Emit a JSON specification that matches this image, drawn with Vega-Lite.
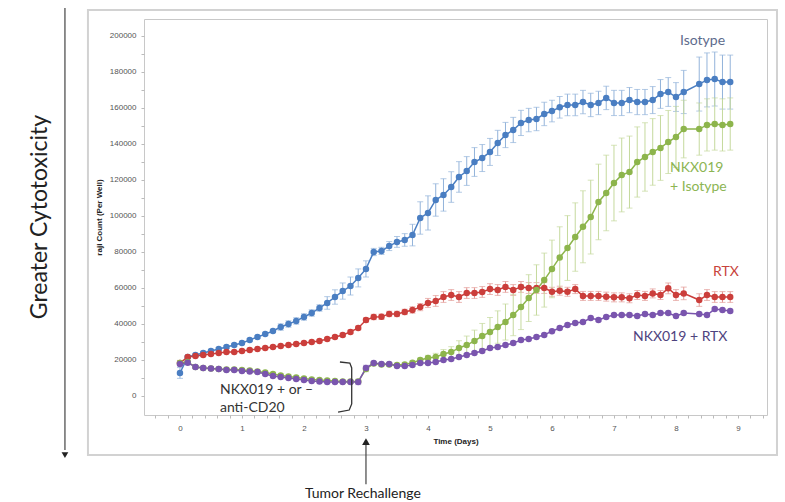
{
  "$schema": "https://vega.github.io/schema/vega-lite/v6.json",
  "width": 623,
  "height": 396,
  "autosize": {"type": "none"},
  "padding": {"left": 144, "top": 19, "right": 18, "bottom": 87},
  "background": "white",
  "config": {
    "view": {"stroke": "#c8c8c8", "strokeWidth": 1},
    "axis": {"grid": false, "domain": false, "labelFont": "Liberation Sans", "labelFontSize": 8, "labelColor": "#555555", "titleFont": "Liberation Sans", "titleFontSize": 8, "titleFontWeight": "bold", "titleColor": "#222222", "tickColor": "#bbbbbb"}
  },
  "datasets": {
    "frame": [{"t": -1.484, "t2": 9.629, "v": 214400, "v2": -32800}],
    "series": [
      {"s":"Isotype","t":0,"v":12800,"e":3000},
      {"s":"Isotype","t":0.125,"v":21700,"e":800},
      {"s":"Isotype","t":0.25,"v":22800,"e":800},
      {"s":"Isotype","t":0.375,"v":23900,"e":800},
      {"s":"Isotype","t":0.5,"v":25000,"e":800},
      {"s":"Isotype","t":0.625,"v":26100,"e":800},
      {"s":"Isotype","t":0.75,"v":27200,"e":800},
      {"s":"Isotype","t":0.875,"v":28300,"e":800},
      {"s":"Isotype","t":1.0,"v":29400,"e":800},
      {"s":"Isotype","t":1.125,"v":31100,"e":800},
      {"s":"Isotype","t":1.25,"v":32800,"e":800},
      {"s":"Isotype","t":1.375,"v":34400,"e":800},
      {"s":"Isotype","t":1.5,"v":36100,"e":800},
      {"s":"Isotype","t":1.625,"v":38300,"e":1800},
      {"s":"Isotype","t":1.75,"v":40000,"e":1800},
      {"s":"Isotype","t":1.875,"v":41700,"e":1800},
      {"s":"Isotype","t":2.0,"v":43900,"e":1800},
      {"s":"Isotype","t":2.125,"v":46100,"e":1800},
      {"s":"Isotype","t":2.25,"v":48900,"e":1800},
      {"s":"Isotype","t":2.375,"v":51700,"e":3500},
      {"s":"Isotype","t":2.5,"v":55000,"e":4000},
      {"s":"Isotype","t":2.625,"v":58300,"e":4500},
      {"s":"Isotype","t":2.75,"v":61100,"e":5000},
      {"s":"Isotype","t":2.875,"v":65600,"e":5000},
      {"s":"Isotype","t":3.0,"v":70600,"e":4500},
      {"s":"Isotype","t":3.125,"v":80000,"e":2000},
      {"s":"Isotype","t":3.25,"v":80600,"e":2000},
      {"s":"Isotype","t":3.375,"v":83300,"e":2500},
      {"s":"Isotype","t":3.5,"v":85600,"e":3000},
      {"s":"Isotype","t":3.625,"v":86700,"e":3500},
      {"s":"Isotype","t":3.75,"v":89400,"e":6000},
      {"s":"Isotype","t":3.875,"v":98900,"e":9000},
      {"s":"Isotype","t":4.0,"v":101700,"e":9500},
      {"s":"Isotype","t":4.125,"v":108900,"e":9000},
      {"s":"Isotype","t":4.25,"v":111700,"e":9000},
      {"s":"Isotype","t":4.375,"v":116100,"e":8500},
      {"s":"Isotype","t":4.5,"v":121700,"e":8500},
      {"s":"Isotype","t":4.625,"v":125000,"e":8000},
      {"s":"Isotype","t":4.75,"v":130000,"e":8000},
      {"s":"Isotype","t":4.875,"v":132200,"e":7500},
      {"s":"Isotype","t":5.0,"v":135600,"e":7500},
      {"s":"Isotype","t":5.125,"v":140600,"e":7000},
      {"s":"Isotype","t":5.25,"v":145000,"e":7000},
      {"s":"Isotype","t":5.375,"v":147800,"e":7000},
      {"s":"Isotype","t":5.5,"v":151700,"e":7000},
      {"s":"Isotype","t":5.625,"v":153300,"e":6500},
      {"s":"Isotype","t":5.75,"v":153900,"e":6500},
      {"s":"Isotype","t":5.875,"v":156700,"e":6500},
      {"s":"Isotype","t":6.0,"v":158300,"e":6000},
      {"s":"Isotype","t":6.125,"v":160400,"e":6000},
      {"s":"Isotype","t":6.25,"v":161700,"e":6000},
      {"s":"Isotype","t":6.375,"v":161700,"e":6000},
      {"s":"Isotype","t":6.5,"v":163300,"e":6500},
      {"s":"Isotype","t":6.625,"v":161700,"e":6500},
      {"s":"Isotype","t":6.75,"v":162800,"e":6500},
      {"s":"Isotype","t":6.875,"v":165600,"e":6500},
      {"s":"Isotype","t":7.0,"v":162800,"e":7000},
      {"s":"Isotype","t":7.125,"v":162800,"e":7000},
      {"s":"Isotype","t":7.25,"v":164400,"e":7000},
      {"s":"Isotype","t":7.375,"v":163300,"e":7000},
      {"s":"Isotype","t":7.5,"v":163300,"e":7000},
      {"s":"Isotype","t":7.625,"v":164400,"e":7500},
      {"s":"Isotype","t":7.75,"v":167800,"e":8000},
      {"s":"Isotype","t":7.875,"v":168900,"e":8000},
      {"s":"Isotype","t":8.0,"v":166100,"e":8000},
      {"s":"Isotype","t":8.125,"v":168900,"e":12000},
      {"s":"Isotype","t":8.375,"v":173300,"e":15000},
      {"s":"Isotype","t":8.5,"v":175600,"e":15000},
      {"s":"Isotype","t":8.625,"v":176100,"e":15000},
      {"s":"Isotype","t":8.75,"v":174400,"e":15000},
      {"s":"Isotype","t":8.875,"v":174400,"e":15000},

      {"s":"RTX","t":0,"v":18300,"e":600},
      {"s":"RTX","t":0.125,"v":21700,"e":500},
      {"s":"RTX","t":0.25,"v":22200,"e":500},
      {"s":"RTX","t":0.375,"v":22800,"e":500},
      {"s":"RTX","t":0.5,"v":23300,"e":500},
      {"s":"RTX","t":0.625,"v":23900,"e":500},
      {"s":"RTX","t":0.75,"v":24400,"e":500},
      {"s":"RTX","t":0.875,"v":24400,"e":500},
      {"s":"RTX","t":1.0,"v":25000,"e":500},
      {"s":"RTX","t":1.125,"v":25600,"e":500},
      {"s":"RTX","t":1.25,"v":26100,"e":500},
      {"s":"RTX","t":1.375,"v":26700,"e":500},
      {"s":"RTX","t":1.5,"v":27200,"e":500},
      {"s":"RTX","t":1.625,"v":27800,"e":500},
      {"s":"RTX","t":1.75,"v":28300,"e":500},
      {"s":"RTX","t":1.875,"v":28900,"e":500},
      {"s":"RTX","t":2.0,"v":29400,"e":500},
      {"s":"RTX","t":2.125,"v":30000,"e":600},
      {"s":"RTX","t":2.25,"v":30600,"e":600},
      {"s":"RTX","t":2.375,"v":31700,"e":700},
      {"s":"RTX","t":2.5,"v":32800,"e":800},
      {"s":"RTX","t":2.625,"v":33900,"e":900},
      {"s":"RTX","t":2.75,"v":35600,"e":1000},
      {"s":"RTX","t":2.875,"v":37800,"e":1000},
      {"s":"RTX","t":3.0,"v":42200,"e":1200},
      {"s":"RTX","t":3.125,"v":43900,"e":1500},
      {"s":"RTX","t":3.25,"v":44000,"e":1500},
      {"s":"RTX","t":3.375,"v":45600,"e":1500},
      {"s":"RTX","t":3.5,"v":45600,"e":1500},
      {"s":"RTX","t":3.625,"v":46700,"e":1500},
      {"s":"RTX","t":3.75,"v":47800,"e":1800},
      {"s":"RTX","t":3.875,"v":49400,"e":2000},
      {"s":"RTX","t":4.0,"v":51700,"e":2500},
      {"s":"RTX","t":4.125,"v":52800,"e":3000},
      {"s":"RTX","t":4.25,"v":55000,"e":3000},
      {"s":"RTX","t":4.375,"v":56100,"e":3000},
      {"s":"RTX","t":4.5,"v":55000,"e":3000},
      {"s":"RTX","t":4.625,"v":57200,"e":3000},
      {"s":"RTX","t":4.75,"v":57200,"e":3000},
      {"s":"RTX","t":4.875,"v":57800,"e":3000},
      {"s":"RTX","t":5.0,"v":59400,"e":3000},
      {"s":"RTX","t":5.125,"v":58900,"e":3000},
      {"s":"RTX","t":5.25,"v":60600,"e":3000},
      {"s":"RTX","t":5.375,"v":58900,"e":3000},
      {"s":"RTX","t":5.5,"v":60600,"e":3000},
      {"s":"RTX","t":5.625,"v":60000,"e":3000},
      {"s":"RTX","t":5.75,"v":60000,"e":3000},
      {"s":"RTX","t":5.875,"v":60000,"e":3000},
      {"s":"RTX","t":6.0,"v":57900,"e":2500},
      {"s":"RTX","t":6.125,"v":58500,"e":2500},
      {"s":"RTX","t":6.25,"v":57900,"e":2500},
      {"s":"RTX","t":6.375,"v":59400,"e":2500},
      {"s":"RTX","t":6.5,"v":55600,"e":2500},
      {"s":"RTX","t":6.625,"v":55600,"e":2500},
      {"s":"RTX","t":6.75,"v":55600,"e":2500},
      {"s":"RTX","t":6.875,"v":55200,"e":2500},
      {"s":"RTX","t":7.0,"v":54800,"e":2500},
      {"s":"RTX","t":7.125,"v":54800,"e":2500},
      {"s":"RTX","t":7.25,"v":54300,"e":2500},
      {"s":"RTX","t":7.375,"v":56100,"e":2500},
      {"s":"RTX","t":7.5,"v":55600,"e":2500},
      {"s":"RTX","t":7.625,"v":57000,"e":2500},
      {"s":"RTX","t":7.75,"v":56100,"e":2500},
      {"s":"RTX","t":7.875,"v":59800,"e":3000},
      {"s":"RTX","t":8.0,"v":56100,"e":3000},
      {"s":"RTX","t":8.125,"v":57000,"e":3500},
      {"s":"RTX","t":8.375,"v":53300,"e":3500},
      {"s":"RTX","t":8.5,"v":56100,"e":3000},
      {"s":"RTX","t":8.625,"v":55000,"e":3000},
      {"s":"RTX","t":8.75,"v":55000,"e":3000},
      {"s":"RTX","t":8.875,"v":55000,"e":3000},

      {"s":"NKX019+Iso","t":0,"v":18300,"e":1500},
      {"s":"NKX019+Iso","t":0.125,"v":18900,"e":800},
      {"s":"NKX019+Iso","t":0.25,"v":16100,"e":800},
      {"s":"NKX019+Iso","t":0.375,"v":15600,"e":800},
      {"s":"NKX019+Iso","t":0.5,"v":15300,"e":800},
      {"s":"NKX019+Iso","t":0.625,"v":15000,"e":800},
      {"s":"NKX019+Iso","t":0.75,"v":14700,"e":800},
      {"s":"NKX019+Iso","t":0.875,"v":14700,"e":800},
      {"s":"NKX019+Iso","t":1.0,"v":14400,"e":800},
      {"s":"NKX019+Iso","t":1.125,"v":14200,"e":800},
      {"s":"NKX019+Iso","t":1.25,"v":13600,"e":800},
      {"s":"NKX019+Iso","t":1.375,"v":13000,"e":800},
      {"s":"NKX019+Iso","t":1.5,"v":12200,"e":800},
      {"s":"NKX019+Iso","t":1.625,"v":11400,"e":800},
      {"s":"NKX019+Iso","t":1.75,"v":10800,"e":800},
      {"s":"NKX019+Iso","t":1.875,"v":10300,"e":800},
      {"s":"NKX019+Iso","t":2.0,"v":9700,"e":800},
      {"s":"NKX019+Iso","t":2.125,"v":9200,"e":800},
      {"s":"NKX019+Iso","t":2.25,"v":8900,"e":800},
      {"s":"NKX019+Iso","t":2.375,"v":8600,"e":800},
      {"s":"NKX019+Iso","t":2.5,"v":8300,"e":800},
      {"s":"NKX019+Iso","t":2.625,"v":8100,"e":800},
      {"s":"NKX019+Iso","t":2.75,"v":8000,"e":800},
      {"s":"NKX019+Iso","t":2.875,"v":8000,"e":800},
      {"s":"NKX019+Iso","t":3.0,"v":15000,"e":1500},
      {"s":"NKX019+Iso","t":3.125,"v":18000,"e":800},
      {"s":"NKX019+Iso","t":3.25,"v":17500,"e":800},
      {"s":"NKX019+Iso","t":3.375,"v":17500,"e":800},
      {"s":"NKX019+Iso","t":3.5,"v":17200,"e":800},
      {"s":"NKX019+Iso","t":3.625,"v":17500,"e":800},
      {"s":"NKX019+Iso","t":3.75,"v":18500,"e":800},
      {"s":"NKX019+Iso","t":3.875,"v":20000,"e":1000},
      {"s":"NKX019+Iso","t":4.0,"v":21100,"e":1500},
      {"s":"NKX019+Iso","t":4.125,"v":21700,"e":2000},
      {"s":"NKX019+Iso","t":4.25,"v":23300,"e":2500},
      {"s":"NKX019+Iso","t":4.375,"v":24400,"e":3000},
      {"s":"NKX019+Iso","t":4.5,"v":26700,"e":4000},
      {"s":"NKX019+Iso","t":4.625,"v":28300,"e":5000},
      {"s":"NKX019+Iso","t":4.75,"v":30600,"e":6000},
      {"s":"NKX019+Iso","t":4.875,"v":33300,"e":7000},
      {"s":"NKX019+Iso","t":5.0,"v":35600,"e":8000},
      {"s":"NKX019+Iso","t":5.125,"v":38300,"e":9000},
      {"s":"NKX019+Iso","t":5.25,"v":41100,"e":10000},
      {"s":"NKX019+Iso","t":5.375,"v":45000,"e":11500},
      {"s":"NKX019+Iso","t":5.5,"v":49400,"e":12500},
      {"s":"NKX019+Iso","t":5.625,"v":54400,"e":13000},
      {"s":"NKX019+Iso","t":5.75,"v":58900,"e":14000},
      {"s":"NKX019+Iso","t":5.875,"v":64400,"e":15000},
      {"s":"NKX019+Iso","t":6.0,"v":70600,"e":16000},
      {"s":"NKX019+Iso","t":6.125,"v":77000,"e":17000},
      {"s":"NKX019+Iso","t":6.25,"v":82200,"e":18000},
      {"s":"NKX019+Iso","t":6.375,"v":88300,"e":19000},
      {"s":"NKX019+Iso","t":6.5,"v":94000,"e":20000},
      {"s":"NKX019+Iso","t":6.625,"v":99400,"e":20500},
      {"s":"NKX019+Iso","t":6.75,"v":107800,"e":21000},
      {"s":"NKX019+Iso","t":6.875,"v":112800,"e":21000},
      {"s":"NKX019+Iso","t":7.0,"v":118300,"e":21000},
      {"s":"NKX019+Iso","t":7.125,"v":122800,"e":20500},
      {"s":"NKX019+Iso","t":7.25,"v":124400,"e":20000},
      {"s":"NKX019+Iso","t":7.375,"v":130000,"e":19500},
      {"s":"NKX019+Iso","t":7.5,"v":132800,"e":19000},
      {"s":"NKX019+Iso","t":7.625,"v":135600,"e":18500},
      {"s":"NKX019+Iso","t":7.75,"v":137800,"e":18000},
      {"s":"NKX019+Iso","t":7.875,"v":141100,"e":17500},
      {"s":"NKX019+Iso","t":8.0,"v":143900,"e":17000},
      {"s":"NKX019+Iso","t":8.125,"v":148300,"e":16000},
      {"s":"NKX019+Iso","t":8.375,"v":148300,"e":14500},
      {"s":"NKX019+Iso","t":8.5,"v":150600,"e":14500},
      {"s":"NKX019+Iso","t":8.625,"v":151100,"e":14500},
      {"s":"NKX019+Iso","t":8.75,"v":150600,"e":14500},
      {"s":"NKX019+Iso","t":8.875,"v":151100,"e":14500},

      {"s":"NKX019+RTX","t":0,"v":17800,"e":600},
      {"s":"NKX019+RTX","t":0.125,"v":18500,"e":600},
      {"s":"NKX019+RTX","t":0.25,"v":16100,"e":600},
      {"s":"NKX019+RTX","t":0.375,"v":15600,"e":600},
      {"s":"NKX019+RTX","t":0.5,"v":15300,"e":600},
      {"s":"NKX019+RTX","t":0.625,"v":15000,"e":600},
      {"s":"NKX019+RTX","t":0.75,"v":14400,"e":600},
      {"s":"NKX019+RTX","t":0.875,"v":14400,"e":600},
      {"s":"NKX019+RTX","t":1.0,"v":13900,"e":600},
      {"s":"NKX019+RTX","t":1.125,"v":13600,"e":600},
      {"s":"NKX019+RTX","t":1.25,"v":13300,"e":600},
      {"s":"NKX019+RTX","t":1.375,"v":12200,"e":600},
      {"s":"NKX019+RTX","t":1.5,"v":11100,"e":600},
      {"s":"NKX019+RTX","t":1.625,"v":10600,"e":600},
      {"s":"NKX019+RTX","t":1.75,"v":10000,"e":600},
      {"s":"NKX019+RTX","t":1.875,"v":9400,"e":600},
      {"s":"NKX019+RTX","t":2.0,"v":8900,"e":600},
      {"s":"NKX019+RTX","t":2.125,"v":8300,"e":600},
      {"s":"NKX019+RTX","t":2.25,"v":8000,"e":600},
      {"s":"NKX019+RTX","t":2.375,"v":7800,"e":600},
      {"s":"NKX019+RTX","t":2.5,"v":7800,"e":600},
      {"s":"NKX019+RTX","t":2.625,"v":7800,"e":600},
      {"s":"NKX019+RTX","t":2.75,"v":7800,"e":600},
      {"s":"NKX019+RTX","t":2.875,"v":7800,"e":1500},
      {"s":"NKX019+RTX","t":3.0,"v":15600,"e":1500},
      {"s":"NKX019+RTX","t":3.125,"v":18300,"e":600},
      {"s":"NKX019+RTX","t":3.25,"v":17800,"e":600},
      {"s":"NKX019+RTX","t":3.375,"v":17800,"e":600},
      {"s":"NKX019+RTX","t":3.5,"v":16700,"e":600},
      {"s":"NKX019+RTX","t":3.625,"v":16700,"e":600},
      {"s":"NKX019+RTX","t":3.75,"v":17200,"e":600},
      {"s":"NKX019+RTX","t":3.875,"v":18300,"e":600},
      {"s":"NKX019+RTX","t":4.0,"v":18300,"e":600},
      {"s":"NKX019+RTX","t":4.125,"v":18900,"e":600},
      {"s":"NKX019+RTX","t":4.25,"v":20000,"e":600},
      {"s":"NKX019+RTX","t":4.375,"v":20600,"e":600},
      {"s":"NKX019+RTX","t":4.5,"v":21700,"e":600},
      {"s":"NKX019+RTX","t":4.625,"v":22800,"e":600},
      {"s":"NKX019+RTX","t":4.75,"v":23900,"e":600},
      {"s":"NKX019+RTX","t":4.875,"v":25000,"e":600},
      {"s":"NKX019+RTX","t":5.0,"v":26700,"e":600},
      {"s":"NKX019+RTX","t":5.125,"v":27200,"e":600},
      {"s":"NKX019+RTX","t":5.25,"v":28300,"e":600},
      {"s":"NKX019+RTX","t":5.375,"v":29400,"e":600},
      {"s":"NKX019+RTX","t":5.5,"v":31100,"e":600},
      {"s":"NKX019+RTX","t":5.625,"v":31700,"e":600},
      {"s":"NKX019+RTX","t":5.75,"v":32800,"e":600},
      {"s":"NKX019+RTX","t":5.875,"v":33900,"e":600},
      {"s":"NKX019+RTX","t":6.0,"v":36000,"e":600},
      {"s":"NKX019+RTX","t":6.125,"v":37800,"e":600},
      {"s":"NKX019+RTX","t":6.25,"v":39400,"e":600},
      {"s":"NKX019+RTX","t":6.375,"v":40600,"e":600},
      {"s":"NKX019+RTX","t":6.5,"v":41100,"e":600},
      {"s":"NKX019+RTX","t":6.625,"v":43300,"e":600},
      {"s":"NKX019+RTX","t":6.75,"v":42200,"e":600},
      {"s":"NKX019+RTX","t":6.875,"v":43900,"e":600},
      {"s":"NKX019+RTX","t":7.0,"v":45000,"e":600},
      {"s":"NKX019+RTX","t":7.125,"v":45000,"e":600},
      {"s":"NKX019+RTX","t":7.25,"v":45000,"e":600},
      {"s":"NKX019+RTX","t":7.375,"v":44400,"e":600},
      {"s":"NKX019+RTX","t":7.5,"v":45600,"e":600},
      {"s":"NKX019+RTX","t":7.625,"v":45000,"e":600},
      {"s":"NKX019+RTX","t":7.75,"v":46100,"e":600},
      {"s":"NKX019+RTX","t":7.875,"v":46100,"e":600},
      {"s":"NKX019+RTX","t":8.0,"v":44400,"e":600},
      {"s":"NKX019+RTX","t":8.125,"v":46100,"e":600},
      {"s":"NKX019+RTX","t":8.375,"v":45600,"e":600},
      {"s":"NKX019+RTX","t":8.5,"v":45000,"e":600},
      {"s":"NKX019+RTX","t":8.625,"v":48300,"e":600},
      {"s":"NKX019+RTX","t":8.75,"v":47800,"e":600},
      {"s":"NKX019+RTX","t":8.875,"v":47200,"e":600}
    ],
    "labels": [
      {"t": 8.065, "v": 197200, "text": "Isotype", "k": "iso"},
      {"t": 7.903, "v": 126700, "text": "NKX019", "k": "nkiso"},
      {"t": 7.903, "v": 116100, "text": "+ Isotype", "k": "nkiso"},
      {"t": 8.597, "v": 68900, "text": "RTX", "k": "rtx"},
      {"t": 7.306, "v": 32800, "text": "NKX019 + RTX", "k": "nkrtx"},
      {"t": 0.645, "v": 3300, "text": "NKX019 + or –", "k": "anno"},
      {"t": 0.645, "v": -6700, "text": "anti-CD20", "k": "anno"}
    ],
    "bracket": [
      {"o": 1, "t": 2.58, "v": 18900},
      {"o": 2, "t": 2.74, "v": 18300},
      {"o": 3, "t": 2.77, "v": 15600},
      {"o": 4, "t": 2.77, "v": -4400},
      {"o": 5, "t": 2.73, "v": -7800},
      {"o": 6, "t": 2.55, "v": -8900}
    ],
    "arrows": [
      {"k": "left", "t": -1.855, "v": 215500, "v2": -30000},
      {"k": "tumor", "t": 3.0, "v": -26500, "v2": -49000}
    ],
    "heads": [
      {"k": "left", "t": -1.855, "v": -32800},
      {"k": "tumor", "t": 3.0, "v": -25300}
    ],
    "outer": [
      {"k": "left", "t": -2.258, "v": 99400, "text": "Greater Cytotoxicity"},
      {"k": "tumor", "t": 2.95, "v": -54300, "text": "Tumor Rechallenge"}
    ]
  },
  "encoding": {
    "x": {"field": "t", "type": "quantitative", "title": "Time (Days)",
      "scale": {"domain": [-0.58, 9.468], "nice": false, "zero": false},
      "axis": {"values": [-0.4,-0.2,0,0.2,0.4,0.6,0.8,1,1.2,1.4,1.6,1.8,2,2.2,2.4,2.6,2.8,3,3.2,3.4,3.6,3.8,4,4.2,4.4,4.6,4.8,5,5.2,5.4,5.6,5.8,6,6.2,6.4,6.6,6.8,7,7.2,7.4,7.6,7.8,8,8.2,8.4,8.6,8.8,9,9.2,9.4],
        "labelExpr": "abs(datum.value - round(datum.value)) < 0.001 ? format(round(datum.value), 'd') : ''",
        "tickSize": 3, "labelPadding": 6, "titlePadding": 5}},
    "y": {"field": "v", "type": "quantitative", "title": "raji Count (Per Well)",
      "scale": {"domain": [-10556, 209444], "nice": false, "zero": false},
      "axis": {"values": [0,10000,20000,30000,40000,50000,60000,70000,80000,90000,100000,110000,120000,130000,140000,150000,160000,170000,180000,190000,200000],
        "labelExpr": "datum.value % 20000 == 0 ? format(datum.value, 'd') : ''",
        "tickSize": 3, "labelPadding": 5, "titlePadding": 6}}
  },
  "resolve": {"scale": {"color": "independent"}},
  "layer": [
    {
      "data": {"name": "frame"},
      "mark": {"type": "rect", "filled": false, "stroke": "#d2d2d2", "strokeWidth": 2},
      "encoding": {
        "x2": {"field": "t2"},
        "y2": {"field": "v2"}
      }
    },
    {
      "data": {"name": "series"},
      "mark": {"type": "errorbar", "ticks": {"size": 6}, "thickness": 1},
      "encoding": {
        "yError": {"field": "e"},
        "color": {"field": "s", "type": "nominal", "legend": null, "scale": {"domain": ["Isotype", "RTX", "NKX019+Iso", "NKX019+RTX"], "range": ["#93b3da", "#e39a96", "#c5d99d", "#b9a8d6"]}}
      }
    },
    {
      "data": {"name": "series"},
      "mark": {"type": "line", "strokeWidth": 1.5, "point": {"filled": true, "size": 42, "opacity": 1}},
      "encoding": {
        "color": {"field": "s", "type": "nominal", "legend": null, "scale": {"domain": ["Isotype", "RTX", "NKX019+Iso", "NKX019+RTX"], "range": ["#4a7ec2", "#cb3e3b", "#8db54c", "#7a55ae"]}}
      }
    },
    {
      "data": {"name": "labels"},
      "mark": {"type": "text", "align": "left", "baseline": "middle", "font": "Lato", "fontSize": 14},
      "encoding": {
        "text": {"field": "text"},
        "color": {"field": "k", "type": "nominal", "legend": null, "scale": {"domain": ["iso", "nkiso", "rtx", "nkrtx", "anno"], "range": ["#5d6b8c", "#8cb553", "#c8433b", "#4e437e", "#333333"]}}
      }
    },
    {
      "data": {"name": "bracket"},
      "mark": {"type": "line", "color": "#333333", "strokeWidth": 1.3},
      "encoding": {
        "order": {"field": "o"}
      }
    },
    {
      "data": {"name": "arrows"},
      "mark": {"type": "rule", "color": "#444444", "strokeWidth": 1.2},
      "encoding": {
        "y2": {"field": "v2"}
      }
    },
    {
      "data": {"name": "heads"},
      "transform": [{"filter": "datum.k == 'left'"}],
      "mark": {"type": "point", "shape": "triangle-down", "filled": true, "color": "#222222", "size": 45, "opacity": 1},
      "encoding": {}
    },
    {
      "data": {"name": "heads"},
      "transform": [{"filter": "datum.k == 'tumor'"}],
      "mark": {"type": "point", "shape": "triangle-up", "filled": true, "color": "#222222", "size": 60, "opacity": 1},
      "encoding": {}
    },
    {
      "data": {"name": "outer"},
      "transform": [{"filter": "datum.k == 'left'"}],
      "mark": {"type": "text", "angle": 270, "align": "center", "baseline": "middle", "font": "Lato", "fontSize": 23, "color": "#222222"},
      "encoding": {
        "text": {"field": "text"}
      }
    },
    {
      "data": {"name": "outer"},
      "transform": [{"filter": "datum.k == 'tumor'"}],
      "mark": {"type": "text", "align": "center", "baseline": "middle", "font": "Lato", "fontSize": 14, "color": "#222222"},
      "encoding": {
        "text": {"field": "text"}
      }
    }
  ]
}
